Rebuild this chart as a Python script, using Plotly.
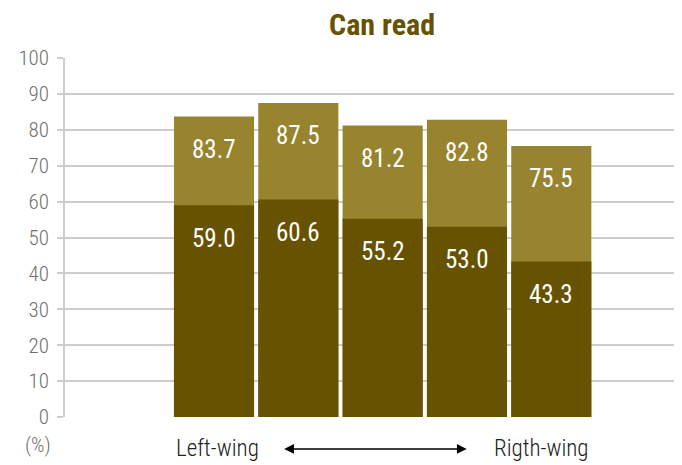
import plotly.graph_objects as go

categories = [0, 1, 2, 3, 4]
total_values = [83.7, 87.5, 81.2, 82.8, 75.5]
dark_values = [59.0, 60.6, 55.2, 53.0, 43.3]
y_ticks = [0, 10, 20, 30, 40, 50, 60, 70, 80, 90, 100]
end_labels = ["Left-wing", "Rigth-wing"]
title_text = "Can read"

DARK = "#665200"
LIGHT = "#98832E"
FONT = "'Roboto Condensed', 'Liberation Sans Narrow', 'DejaVu Sans Condensed', Roboto"
BAR_W = 0.95

fig = go.Figure()
fig.add_trace(go.Bar(x=categories, y=total_values, marker=dict(color=LIGHT, line=dict(width=0)),
                     width=BAR_W, hoverinfo="skip"))
fig.add_trace(go.Bar(x=categories, y=dark_values, marker=dict(color=DARK, line=dict(width=0)),
                     width=BAR_W, hoverinfo="skip"))

annotations = []
for xv, tv, dv in zip(categories, total_values, dark_values):
    for v in (tv, dv):
        annotations.append(dict(x=xv, y=v, xref="x", yref="y", text=f"{v:.1f}",
                                showarrow=False, yshift=-33,
                                font=dict(family=FONT, size=25, color="white", weight=400)))

# end labels aligned to the outer edges of the first and last bars
annotations.append(dict(x=categories[0] - BAR_W / 2, y=-0.089, xref="x", yref="paper",
                        text=end_labels[0], xanchor="left", yanchor="middle", showarrow=False,
                        font=dict(family=FONT, size=23, color="#222222", weight=300)))
annotations.append(dict(x=categories[-1] + BAR_W / 2, y=-0.089, xref="x", yref="paper",
                        text=end_labels[1], xanchor="right", yanchor="middle", showarrow=False,
                        font=dict(family=FONT, size=23, color="#222222", weight=300)))

annotations.append(dict(x=-0.044, y=-0.078, xref="paper", yref="paper", text="(%)",
                        xanchor="center", yanchor="middle",
                        showarrow=False, font=dict(family=FONT, size=21, color="#707070", weight=300)))
annotations.append(dict(x=0.651, y=-0.089, xref="paper", yref="paper", text="",
                        showarrow=True, axref="pixel", ayref="pixel", ax=-184, ay=0,
                        arrowside="end+start", arrowhead=2, arrowsize=1.3, arrowwidth=1.5,
                        arrowcolor="#000000"))

fig.update_layout(
    width=674, height=457,
    margin=dict(l=57, r=0, t=50, b=48),
    paper_bgcolor="white", plot_bgcolor="white",
    barmode="overlay", showlegend=False,
    title=dict(text=f"<b>{title_text}</b>", x=0.555, xanchor="center", y=0.964, yanchor="middle",
               font=dict(family=FONT, size=30, color=DARK)),
    annotations=annotations,
)
fig.update_xaxes(range=[-1.767, 5.55], showticklabels=False,
                 showgrid=False, zeroline=False, showline=False, ticks="", automargin=False)
fig.update_yaxes(range=[0, 100], tickvals=y_ticks, showgrid=True, gridcolor="#cccccc", gridwidth=1.5,
                 zeroline=False, showline=True, linecolor="#cccccc", linewidth=1.5,
                 ticks="outside", ticklen=6, tickcolor="#cccccc", tickwidth=1.5,
                 ticklabelstandoff=4, automargin=False,
                 tickfont=dict(family=FONT, size=21, color="#707070", weight=300))

fig.write_html("out.html")
